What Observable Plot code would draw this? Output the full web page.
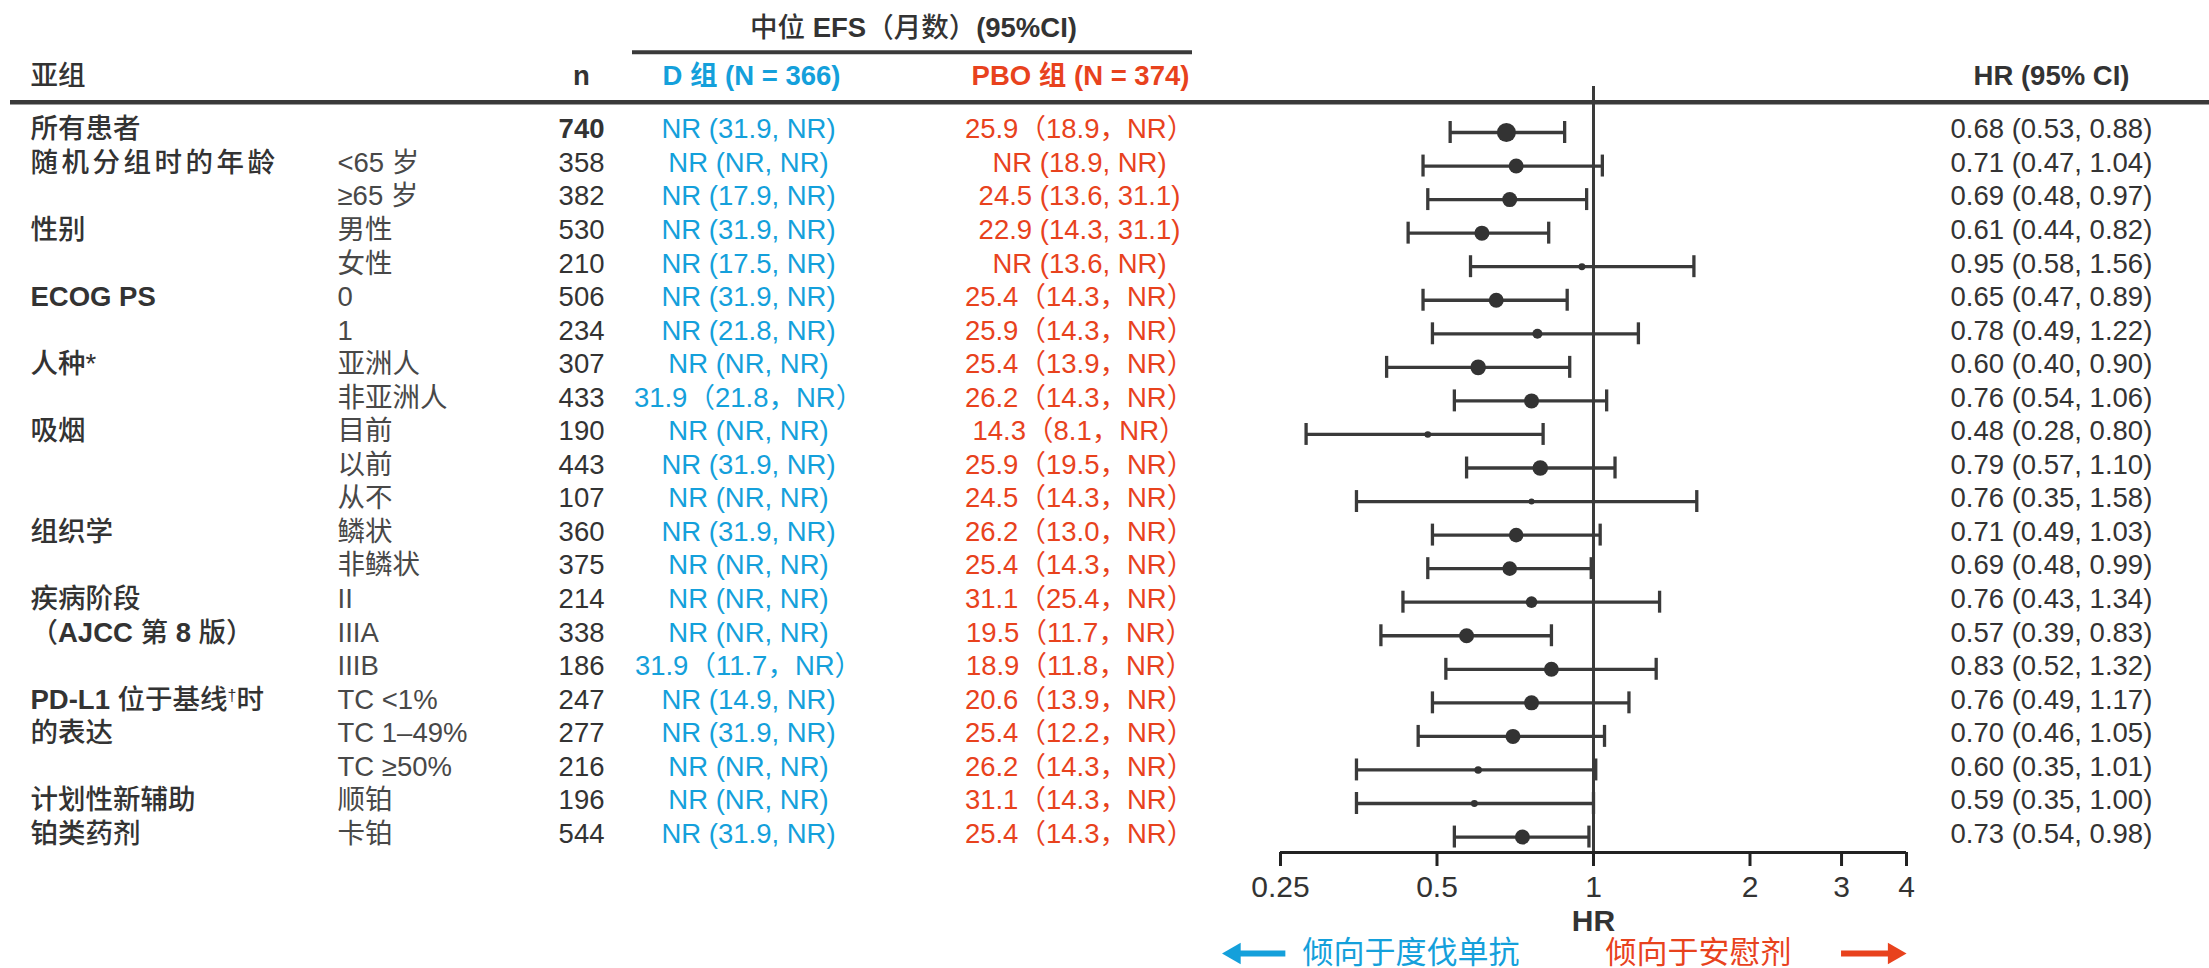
<!DOCTYPE html>
<html>
<head>
<meta charset="utf-8">
<script src="https://cdn.jsdelivr.net/npm/d3@7"></script>
<script src="https://cdn.jsdelivr.net/npm/@observablehq/plot@0.6"></script>
<style>
html, body { margin: 0; padding: 0; background: #fff; }
</style>
</head>
<body>
<div id="chart"></div>
<script>
// ---------------- data ----------------
const groupLabels = ["所有患者", "随机分组时的年龄", "", "性别", "", "ECOG PS", "", "人种*", "", "吸烟", "", "", "组织学", "", "疾病阶段", "（AJCC 第 8 版）", "", "PD-L1 位于基线†时", "的表达", "", "计划性新辅助", "铂类药剂"];
const levelLabels = ["", "<65 岁", "≥65 岁", "男性", "女性", "0", "1", "亚洲人", "非亚洲人", "目前", "以前", "从不", "鳞状", "非鳞状", "II", "IIIA", "IIIB", "TC <1%", "TC 1–49%", "TC ≥50%", "顺铂", "卡铂"];
const nValues = [740, 358, 382, 530, 210, 506, 234, 307, 433, 190, 443, 107, 360, 375, 214, 338, 186, 247, 277, 216, 196, 544];
const dMedian = ["NR (31.9, NR)", "NR (NR, NR)", "NR (17.9, NR)", "NR (31.9, NR)", "NR (17.5, NR)", "NR (31.9, NR)", "NR (21.8, NR)", "NR (NR, NR)", "31.9（21.8，NR）", "NR (NR, NR)", "NR (31.9, NR)", "NR (NR, NR)", "NR (31.9, NR)", "NR (NR, NR)", "NR (NR, NR)", "NR (NR, NR)", "31.9（11.7，NR）", "NR (14.9, NR)", "NR (31.9, NR)", "NR (NR, NR)", "NR (NR, NR)", "NR (31.9, NR)"];
const pboMedian = ["25.9（18.9，NR）", "NR (18.9, NR)", "24.5 (13.6, 31.1)", "22.9 (14.3, 31.1)", "NR (13.6, NR)", "25.4（14.3，NR）", "25.9（14.3，NR）", "25.4（13.9，NR）", "26.2（14.3，NR）", "14.3（8.1，NR）", "25.9（19.5，NR）", "24.5（14.3，NR）", "26.2（13.0，NR）", "25.4（14.3，NR）", "31.1（25.4，NR）", "19.5（11.7，NR）", "18.9（11.8，NR）", "20.6（13.9，NR）", "25.4（12.2，NR）", "26.2（14.3，NR）", "31.1（14.3，NR）", "25.4（14.3，NR）"];
const hrValues = [0.68, 0.71, 0.69, 0.61, 0.95, 0.65, 0.78, 0.60, 0.76, 0.48, 0.79, 0.76, 0.71, 0.69, 0.76, 0.57, 0.83, 0.76, 0.70, 0.60, 0.59, 0.73];
const hrLow = [0.53, 0.47, 0.48, 0.44, 0.58, 0.47, 0.49, 0.40, 0.54, 0.28, 0.57, 0.35, 0.49, 0.48, 0.43, 0.39, 0.52, 0.49, 0.46, 0.35, 0.35, 0.54];
const hrHigh = [0.88, 1.04, 0.97, 0.82, 1.56, 0.89, 1.22, 0.90, 1.06, 0.80, 1.10, 1.58, 1.03, 0.99, 1.34, 0.83, 1.32, 1.17, 1.05, 1.01, 1.00, 0.98];
// relative marker weight (area)
const markerWeight = [90, 56, 56, 56, 12, 56, 25, 61, 56, 11, 61, 9, 53, 53, 34, 56, 56, 56, 56, 14, 12, 56];
const axisTicks = [0.25, 0.5, 1, 2, 3, 4];

// ---------------- build ----------------
const rows = groupLabels.map((g, i) => ({
  id: "r" + i, group: g, level: levelLabels[i], n: nValues[i],
  d: dMedian[i], p: pboMedian[i], hr: hrValues[i], lo: hrLow[i], hi: hrHigh[i], w: markerWeight[i],
  hrText: `${hrValues[i].toFixed(2)} (${hrLow[i].toFixed(2)}, ${hrHigh[i].toFixed(2)})`
}));
const first = rows[0], last = rows[rows.length - 1];

const W = 2209, H = 968;
const FONT = "'Liberation Sans', Arial, 'Noto Sans CJK SC', sans-serif";
const ink = "#333333", line = "#3a3a3a", blue = "#14a0db", red = "#e8421d";
const fs = 27.5;
const mTop = 86, mBottom = 116;
const bw = 33.55;
const tdy = -3;

const col = (data, field, dx, anchor, fill, extra = {}) =>
  Plot.text(data.filter(d => d[field] !== ""), {y: "id", text: field, frameAnchor: "left", dx, dy: tdy, textAnchor: anchor, fill, fontSize: fs, ...extra});
const label = (txt, px, py, extra = {}) =>
  Plot.text([txt], {text: d => d, frameAnchor: "top-left", lineAnchor: "middle", dx: px, dy: py - mTop, fontSize: fs, fill: ink, ...extra});

const chart = Plot.plot({
  width: W, height: H,
  marginLeft: 0, marginRight: 0, marginTop: mTop, marginBottom: mBottom,
  style: {fontFamily: FONT, color: ink, background: "#fff", overflow: "visible"},
  x: {type: "log", domain: [0.25, 4], range: [1280, 1906], axis: null},
  y: {type: "band", domain: rows.map(d => d.id), range: [132 - bw / 2, 132 + 21.5 * bw], padding: 0, round: false, axis: null},
  r: {domain: [0, 90], range: [0, 9.5]},
  marks: [
    // header rules
    Plot.ruleY([first], {y: "id", dy: -80.3, insetLeft: 632, insetRight: W - 1192, stroke: line, strokeWidth: 4}),
    Plot.ruleY([first], {y: "id", dy: -30.3, insetLeft: 10, stroke: line, strokeWidth: 4.5}),
    // reference line
    Plot.ruleX([1], {stroke: line, strokeWidth: 3}),
    // axis
    Plot.ruleY([last], {y: "id", x1: 0.25, x2: 4, dy: 15.5, stroke: "#222", strokeWidth: 3}),
    Plot.axisX({ticks: axisTicks, tickFormat: d => String(d), tickSize: 14, tickPadding: 9, fontSize: 30, strokeWidth: 3, stroke: "#222", fill: ink, label: null}),
    Plot.text([last], {x: () => 1, y: "id", text: () => "HR", dy: 84, fontSize: 30, fontWeight: "bold", fill: ink}),
    // CI
    Plot.ruleY(rows, {y: "id", x1: "lo", x2: "hi", stroke: line, strokeWidth: 3.3}),
    Plot.tickX(rows, {x: "lo", y: "id", insetTop: 5.8, insetBottom: 5.8, stroke: line, strokeWidth: 3.3}),
    Plot.tickX(rows, {x: "hi", y: "id", insetTop: 5.8, insetBottom: 5.8, stroke: line, strokeWidth: 3.3}),
    Plot.dot(rows, {x: "hr", y: "id", r: "w", fill: ink, stroke: "none"}),
    // favours
    Plot.ruleY([last], {y: "id", x1: () => 0.193, x2: () => 0.256, insetLeft: 12, dy: 116.4, stroke: blue, strokeWidth: 6}),
    Plot.dot([last], {x: () => 0.193, y: "id", dx: 12.4, dy: 116.4, symbol: "triangle", rotate: -90, r: 8, fill: blue}),
    Plot.ruleY([last], {y: "id", x1: () => 3, x2: () => 4, insetRight: 12, dy: 116.4, stroke: red, strokeWidth: 6}),
    Plot.dot([last], {x: () => 4, y: "id", dx: -12.4, dy: 116.4, symbol: "triangle", rotate: 90, r: 8, fill: red}),
    Plot.text([last], {x: () => 0.25, y: "id", text: () => "倾向于度伐单抗", dx: 22, dy: 116.4, textAnchor: "start", fontSize: 31, fill: blue}),
    Plot.text([last], {x: () => 1, y: "id", text: () => "倾向于安慰剂", dx: 12, dy: 116.4, textAnchor: "start", fontSize: 31, fill: red}),
    // header texts
    label("中位 EFS（月数）(95%CI)", 913, 28, {textAnchor: "middle"}),
    label("亚组", 30, 76, {textAnchor: "start", fontWeight: 500}),
    label("n", 581, 76, {textAnchor: "middle", fontWeight: "bold"}),
    label("D 组 (N = 366)", 751, 76, {textAnchor: "middle", fontWeight: "bold", fill: blue}),
    label("PBO 组 (N = 374)", 1080, 76, {textAnchor: "middle", fontWeight: "bold", fill: red}),
    label("HR (95% CI)", 2051, 76, {textAnchor: "middle", fontWeight: "bold"}),
    // table columns
    col(rows, "group", 30, "start", ink, {fontWeight: 500}),
    col(rows, "level", 337, "start", "#484848"),
    col(rows.slice(0, 1), "n", 604, "end", ink, {fontWeight: "bold"}),
    col(rows.slice(1), "n", 604, "end", ink),
    col(rows, "d", 748, "middle", blue),
    col(rows, "p", 1079, "middle", red),
    col(rows, "hrText", 1950, "start", ink)
  ]
});

// mixed-weight labels
const rich = {
  "中位 EFS（月数）(95%CI)": [["中位 ", 500], ["EFS", 700], ["（月数）", 500], ["(95%CI)", 700]],
  "（AJCC 第 8 版）": [["（", 500], ["AJCC", 700], [" 第 ", 500], ["8", 700], [" 版）", 500]],
  "PD-L1 位于基线†时": [["PD-L1", 700], [" 位于基线", 500], ["†", 500, "sup"], ["时", 500, "after"]],
  "ECOG PS": [["ECOG PS", 700]]
};
const NS = "http://www.w3.org/2000/svg";
chart.querySelectorAll("text").forEach(t => {
  if (t.textContent === "随机分组时的年龄") { t.setAttribute("letter-spacing", "3.5"); return; }
  const parts = rich[t.textContent];
  if (!parts) return;
  t.textContent = "";
  parts.forEach(([s, w, flag]) => {
    const ts = document.createElementNS(NS, "tspan");
    ts.textContent = s;
    ts.setAttribute("font-weight", w);
    if (flag === "sup") { ts.setAttribute("font-size", "16"); ts.setAttribute("dy", "-8"); }
    if (flag === "after") { ts.setAttribute("dy", "8"); }
    t.appendChild(ts);
  });
});

document.getElementById("chart").appendChild(chart);
</script>
</body>
</html>
